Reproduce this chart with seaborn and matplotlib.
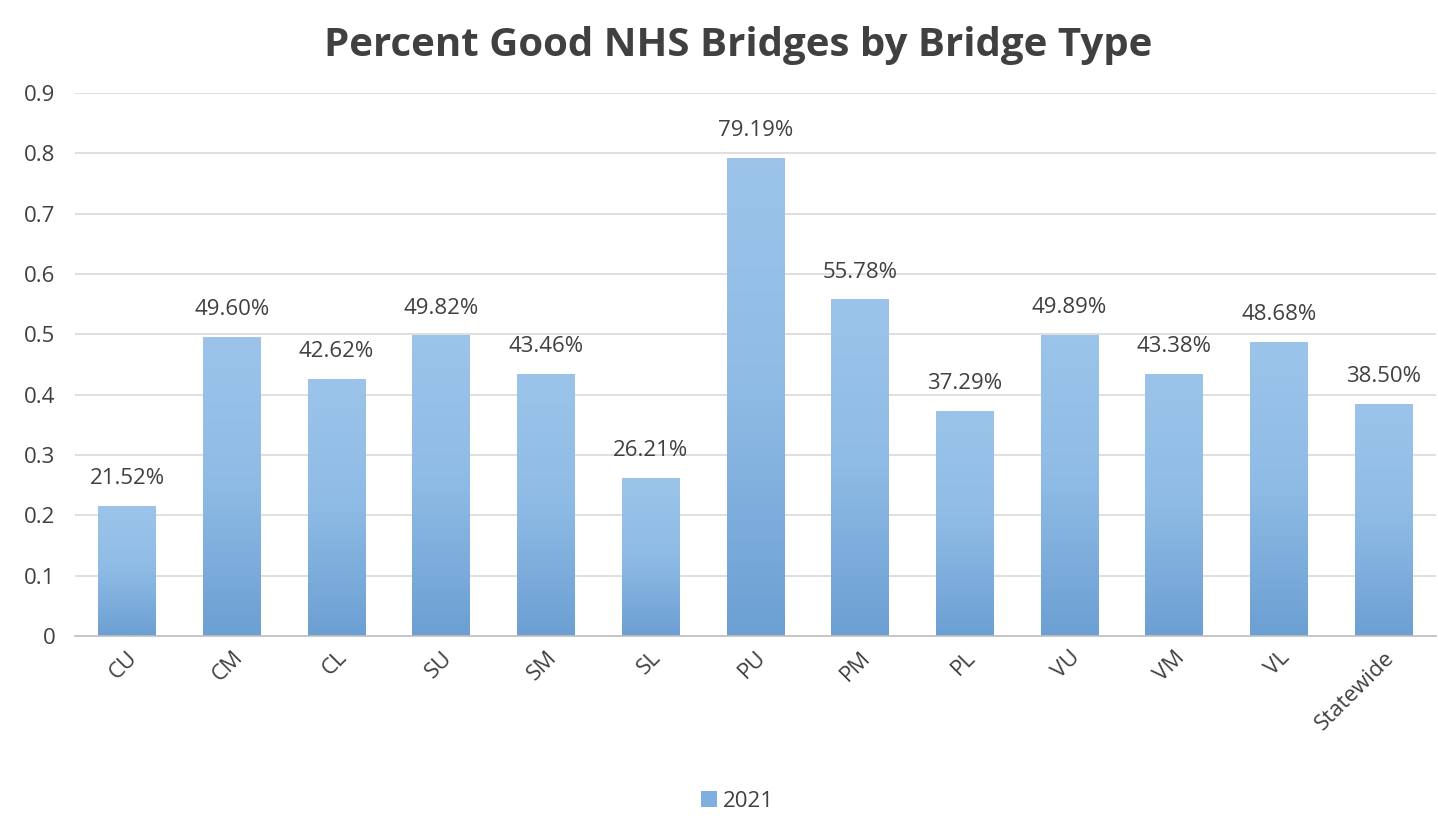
import numpy as np
import pandas as pd
import matplotlib
matplotlib.use("Agg")
import matplotlib.pyplot as plt
import seaborn as sns
from matplotlib.colors import LinearSegmentedColormap
from matplotlib.patches import Patch

bridge_types = ['CU', 'CM', 'CL', 'SU', 'SM', 'SL', 'PU', 'PM', 'PL', 'VU', 'VM', 'VL', 'Statewide']
pct_good = [0.2152, 0.4960, 0.4262, 0.4982, 0.4346, 0.2621, 0.7919, 0.5578, 0.3729, 0.4989, 0.4338, 0.4868, 0.3850]
series_name = '2021'

df = pd.DataFrame({'type': bridge_types, 'pct': pct_good})

sns.set_theme(style='white')
plt.rcParams['font.family'] = ['Open Sans', 'DejaVu Sans']

fig = plt.figure(figsize=(14.38, 8.16), dpi=100)
ax = fig.add_axes([0.052, 0.2206, 0.9466, 0.6654])

sns.barplot(data=df, x='type', y='pct', color='#8DB8E2', width=0.55, ax=ax)

# vertical gradient fill, like the spreadsheet chart
grad = LinearSegmentedColormap.from_list('g', ['#6C9FD3', '#8EBBE5', '#9CC4EA'])
for p in ax.patches:
    x0, y0 = p.get_x(), p.get_y()
    w, h = p.get_width(), p.get_height()
    img = ax.imshow(np.linspace(0, 1, 100).reshape(-1, 1), cmap=grad, aspect='auto',
                    extent=[x0, x0 + w, y0, y0 + h], origin='lower', zorder=2)
    img.set_clip_path(p)
    p.set_edgecolor('none')

ax.set_xlim(-0.5, len(bridge_types) - 0.5)
ax.set_ylim(0, 0.9)
ax.set_yticks(np.arange(0, 0.91, 0.1))
ax.set_yticklabels(['0'] + [f'{v:.1f}' for v in np.arange(0.1, 0.91, 0.1)])
ax.yaxis.grid(True, color='#D9D9D9', linewidth=1.2)
ax.set_axisbelow(True)
for s in ['top', 'right', 'left']:
    ax.spines[s].set_visible(False)
ax.spines['bottom'].set_color('#BFBFBF')
ax.spines['bottom'].set_linewidth(1.2)

ax.tick_params(axis='y', labelsize=16, labelcolor='#404040', length=0, pad=14)
ax.tick_params(axis='x', labelsize=16, labelcolor='#404040', length=0, pad=8)
plt.setp(ax.get_xticklabels(), rotation=45, ha='right', rotation_mode='anchor')
ax.set_xlabel('')
ax.set_ylabel('')

for i, v in enumerate(pct_good):
    ax.text(i, v + 0.028, f'{v * 100:.2f}%', ha='center', va='bottom',
            fontsize=16, color='#404040')

fig.suptitle('Percent Good NHS Bridges by Bridge Type', x=0.513, y=0.968, fontsize=29,
             fontweight='bold', color='#404040')

handles = [Patch(facecolor='#7FAFE0', edgecolor='none', label=series_name)]
fig.legend(handles=handles, loc='center', bbox_to_anchor=(0.513, 0.018), frameon=False,
           fontsize=16, handlelength=0.7, handleheight=0.7, handletextpad=0.3,
           labelcolor='#404040')

fig.savefig('out.png', dpi=100)
